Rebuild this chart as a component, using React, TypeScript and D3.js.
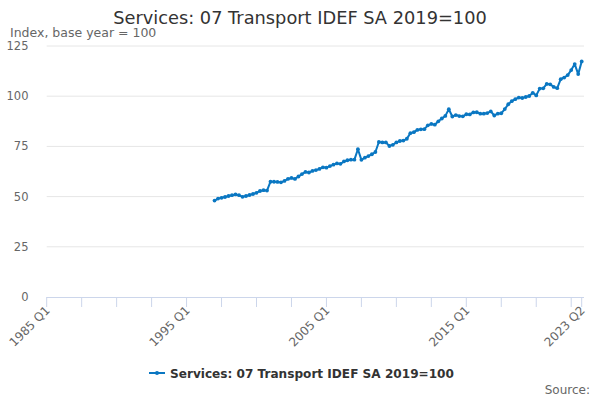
import React from "react";
import * as d3 from "d3";

const title = "Services: 07 Transport IDEF SA 2019=100";
const subtitle = "Index, base year = 100";
const seriesName = "Services: 07 Transport IDEF SA 2019=100";
const startYear = 1985;
const firstDataIndex = 48; // 1997 Q1
const totalQuarters = 154; // 1985 Q1 .. 2023 Q2
const yTicks = [0, 25, 50, 75, 100, 125];
const xLabelIndices = [0, 40, 80, 120, 153];

const values = [
  48.0, 49.0, 49.4, 49.8, 50.3, 50.7, 51.1, 50.7, 49.9, 50.3, 50.8, 51.3,
  51.9, 52.8, 53.2, 53.0, 57.4, 57.4, 57.3, 57.1, 57.8, 58.8, 59.3, 58.8,
  60.0, 61.2, 62.3, 62.0, 62.8, 63.2, 63.8, 64.6, 64.4, 65.2, 65.9, 66.5,
  66.3, 67.5, 68.1, 68.4, 68.4, 73.6, 68.3, 69.4, 70.2, 71.1, 72.2, 77.2,
  77.0, 77.0, 75.2, 75.8, 77.0, 77.7, 77.9, 78.8, 81.6, 82.1, 83.2, 83.5,
  83.6, 85.5, 86.2, 85.8, 87.5, 88.9, 90.2, 93.5, 89.9, 90.6, 90.1, 90.0,
  91.0, 90.9, 91.9, 92.0, 91.3, 91.3, 91.6, 92.4, 90.4, 91.3, 91.5, 93.6,
  96.0, 97.5, 98.5, 99.3, 99.1, 99.6, 100.1, 101.7, 100.4, 103.8, 103.9, 106.1,
  105.9, 104.6, 104.0, 108.5, 109.3, 110.5, 113.0, 116.0, 111.0, 117.3,
];

const quarterLabel = (i: number) =>
  `${startYear + Math.floor(i / 4)} Q${(i % 4) + 1}`;

export default function App() {
  const width = 600;
  const height = 400;
  const left = 46.7;
  const right = 581.7;
  const top = 46;
  const bottom = 297;
  const font = "'DejaVu Sans', sans-serif";

  const x = d3.scaleLinear().domain([0, totalQuarters - 1]).range([left, right]);
  const y = d3.scaleLinear().domain([0, 125]).range([bottom, top]);

  const data = values.map((v, k) => ({ i: firstDataIndex + k, v }));
  const line = d3
    .line<{ i: number; v: number }>()
    .x((d) => x(d.i))
    .y((d) => y(d.v));

  const minorTicks = d3.range(0, totalQuarters, 10).concat([totalQuarters - 1]);
  const color = "#0a77c2";

  return (
    <svg
      width={width}
      height={height}
      style={{ position: "absolute", left: 0, top: 0, background: "#fff" }}
      fontFamily={font}
    >
      <text x={300} y={24} textAnchor="middle" fontSize={17.8} fill="#333">
        {title}
      </text>
      <text x={10} y={37} fontSize={12.5} fill="#666">
        {subtitle}
      </text>
      {yTicks.map((t) => (
        <g key={t}>
          {t > 0 && (
            <line x1={left} x2={584} y1={y(t)} y2={y(t)} stroke="#e6e6e6" strokeWidth={1} />
          )}
          <text x={28.5} y={y(t) + 4} textAnchor="end" fontSize={11.5} fill="#666">
            {t}
          </text>
        </g>
      ))}
      <line x1={left} x2={584} y1={bottom + 0.5} y2={bottom + 0.5} stroke="#ccd6eb" strokeWidth={1} />
      {minorTicks.map((i) => (
        <line key={i} x1={x(i)} x2={x(i)} y1={bottom} y2={bottom + 10} stroke="#ccd6eb" strokeWidth={1} />
      ))}
      {xLabelIndices.map((i) => (
        <text
          key={i}
          transform={`translate(${x(i) + 4},${bottom + 14}) rotate(-45)`}
          textAnchor="end"
          fontSize={12}
          fill="#666"
        >
          {quarterLabel(i)}
        </text>
      ))}
      <path d={line(data) || ""} fill="none" stroke={color} strokeWidth={2} strokeLinejoin="round" />
      {data.map((d) => (
        <circle key={d.i} cx={x(d.i)} cy={y(d.v)} r={1.9} fill={color} />
      ))}
      <g>
        <line x1={149} x2={165} y1={373} y2={373} stroke={color} strokeWidth={2} />
        <circle cx={157} cy={373} r={2} fill={color} />
        <text x={170} y={377.5} fontSize={12.1} fontWeight="bold" fill="#333">
          {seriesName}
        </text>
      </g>
      <text x={590} y={394} textAnchor="end" fontSize={12} fill="#666">
        Source:
      </text>
    </svg>
  );
}
